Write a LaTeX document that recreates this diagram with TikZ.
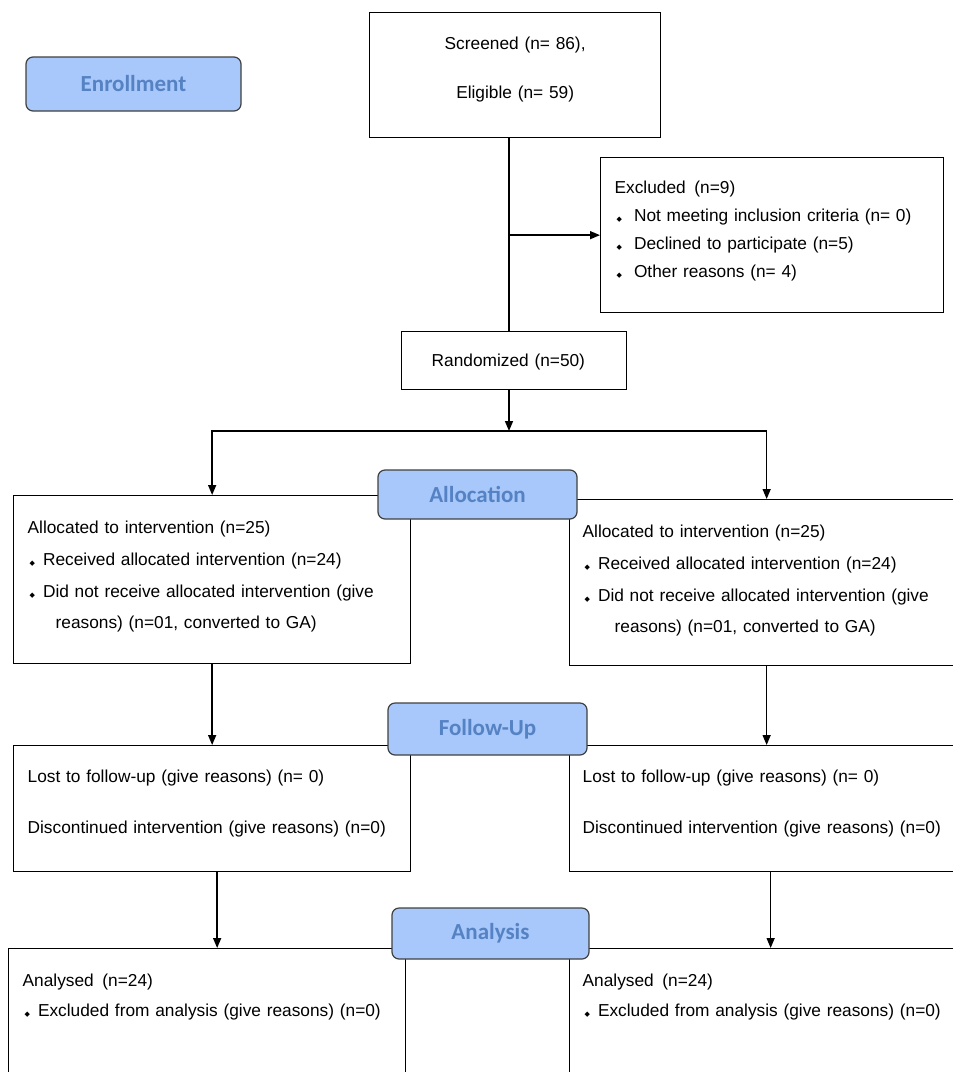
\documentclass[tikz,border=0pt]{standalone}
\usepackage{fontspec}
\setmainfont{Liberation Sans}
\newfontfamily\labelfont{Carlito}
\newfontfamily\symfont{DejaVu Sans}
\usetikzlibrary{arrows.meta}
\definecolor{labelfill}{HTML}{A8C7FA}
\definecolor{labeltext}{HTML}{5582C3}
\newcommand{\itm}[1][8pt]{\hspace*{2pt}{\symfont\fontsize{7}{7}\selectfont ◆}\hspace{#1}}

\begin{document}
\begin{tikzpicture}[x=1pt,y=-1pt,
    box/.style={draw, line width=1.3pt, anchor=north west, inner xsep=13pt, inner ysep=0pt,
      align=left, font=\fontsize{17.3}{31.7}\selectfont},
    stage/.style={draw=black!75, fill=labelfill, rounded corners=7pt, line width=1.2pt,
      inner sep=0pt, text=labeltext, font=\labelfont\bfseries\fontsize{23}{23}\selectfont},
    arr/.style={line width=1.5pt, -{Triangle[length=10pt,width=8pt]}}]
        \useasboundingbox (0,0) rectangle (953,1072);
        % draw enrollment boxes
        \node[box, align=center, inner xsep=0pt, text width=291pt, text height=37pt, text depth=88pt,
          font=\fontsize{17.3}{49}\selectfont] (screen) at (369,12) {Screened (n= 86),\\Eligible (n= 59)};
        \node[box, inner xsep=14pt, text width=315pt, text height=36pt, text depth=119pt,
          font=\fontsize{17.3}{28}\selectfont] (excl) at (600,157)
          {Excluded\enspace(n=9)\\
           \itm[12pt]Not meeting inclusion criteria (n= 0)\\
           \itm[12pt]Declined to participate (n=5)\\
           \itm[12pt]Other reasons (n= 4)};
        \node[box, inner xsep=30pt, text width=165pt, text height=35pt, text depth=23pt] (rand) at (401,331)
          {Randomized (n=50)};
        \coordinate (split) at (509,431);
        % draw allocation boxes
        \node[box, inner xsep=14pt, text width=369pt, text height=38pt, text depth=130pt] (alocL) at (13,495)
          {Allocated to intervention (n=25)\\
           \itm Received allocated intervention (n=24)\\
           \itm Did not receive allocated intervention (give\\
           \hspace*{28pt}reasons) (n=01, converted to GA)};
        \node[box, text width=368pt, text height=38pt, text depth=128pt] (alocR) at (569,499)
          {Allocated to intervention (n=25)\\
           \itm Received allocated intervention (n=24)\\
           \itm Did not receive allocated intervention (give\\
           \hspace*{32pt}reasons) (n=01, converted to GA)};
        % draw follow-up boxes
        \node[box, inner xsep=14pt, text width=369pt, text height=37pt, text depth=89pt,
          font=\fontsize{17.3}{51}\selectfont] (folL) at (13,745)
          {Lost to follow-up (give reasons) (n= 0)\\Discontinued intervention (give reasons) (n=0)};
        \node[box, text width=368pt, text height=37pt, text depth=89pt,
          font=\fontsize{17.3}{51}\selectfont] (folR) at (569,745)
          {Lost to follow-up (give reasons) (n= 0)\\Discontinued intervention (give reasons) (n=0)};
        % draw analysis boxes
        \node[box, inner xsep=14pt, text width=369pt, text height=38pt, text depth=114pt,
          font=\fontsize{17.3}{30}\selectfont] (anaL) at (8,948)
          {Analysed\enspace(n=24)\\\itm Excluded from analysis (give reasons) (n=0)};
        \node[box, text width=368pt, text height=38pt, text depth=114pt,
          font=\fontsize{17.3}{30}\selectfont] (anaR) at (569,948)
          {Analysed\enspace(n=24)\\\itm Excluded from analysis (give reasons) (n=0)};
        % draw connectors
        \draw[line width=1.5pt] (screen.south -| split) -- (rand.north -| split);
        \draw[arr] (split |- excl.west) -- (excl.west);
        \draw[arr] (rand.south -| split) -- (split);
        \draw[arr] (split) -| (alocL.north);
        \draw[arr] (split) -| (alocR.north);
        \draw[arr] (alocL) -- (folL);
        \draw[arr] (alocR) -- (folR);
        \draw[arr] ([xshift=5pt]folL.south) -- ([xshift=5pt]folL.south |- anaL.north);
        \draw[arr] ([xshift=4pt]folR.south) -- ([xshift=4pt]folR.south |- anaR.north);
        % draw stage labels
        \node[stage, minimum width=215pt, minimum height=54pt] (enroll) at (133.5,84) {Enrollment};
        \node[stage, minimum width=199pt, minimum height=49pt] (alloc) at (477.5,494.5) {Allocation};
        \node[stage, minimum width=199pt, minimum height=52pt] (follow) at (487.5,729) {Follow-Up};
        \node[stage, minimum width=197pt, minimum height=51pt] (analysis) at (490.5,933.5) {Analysis};
\end{tikzpicture}
\end{document}
